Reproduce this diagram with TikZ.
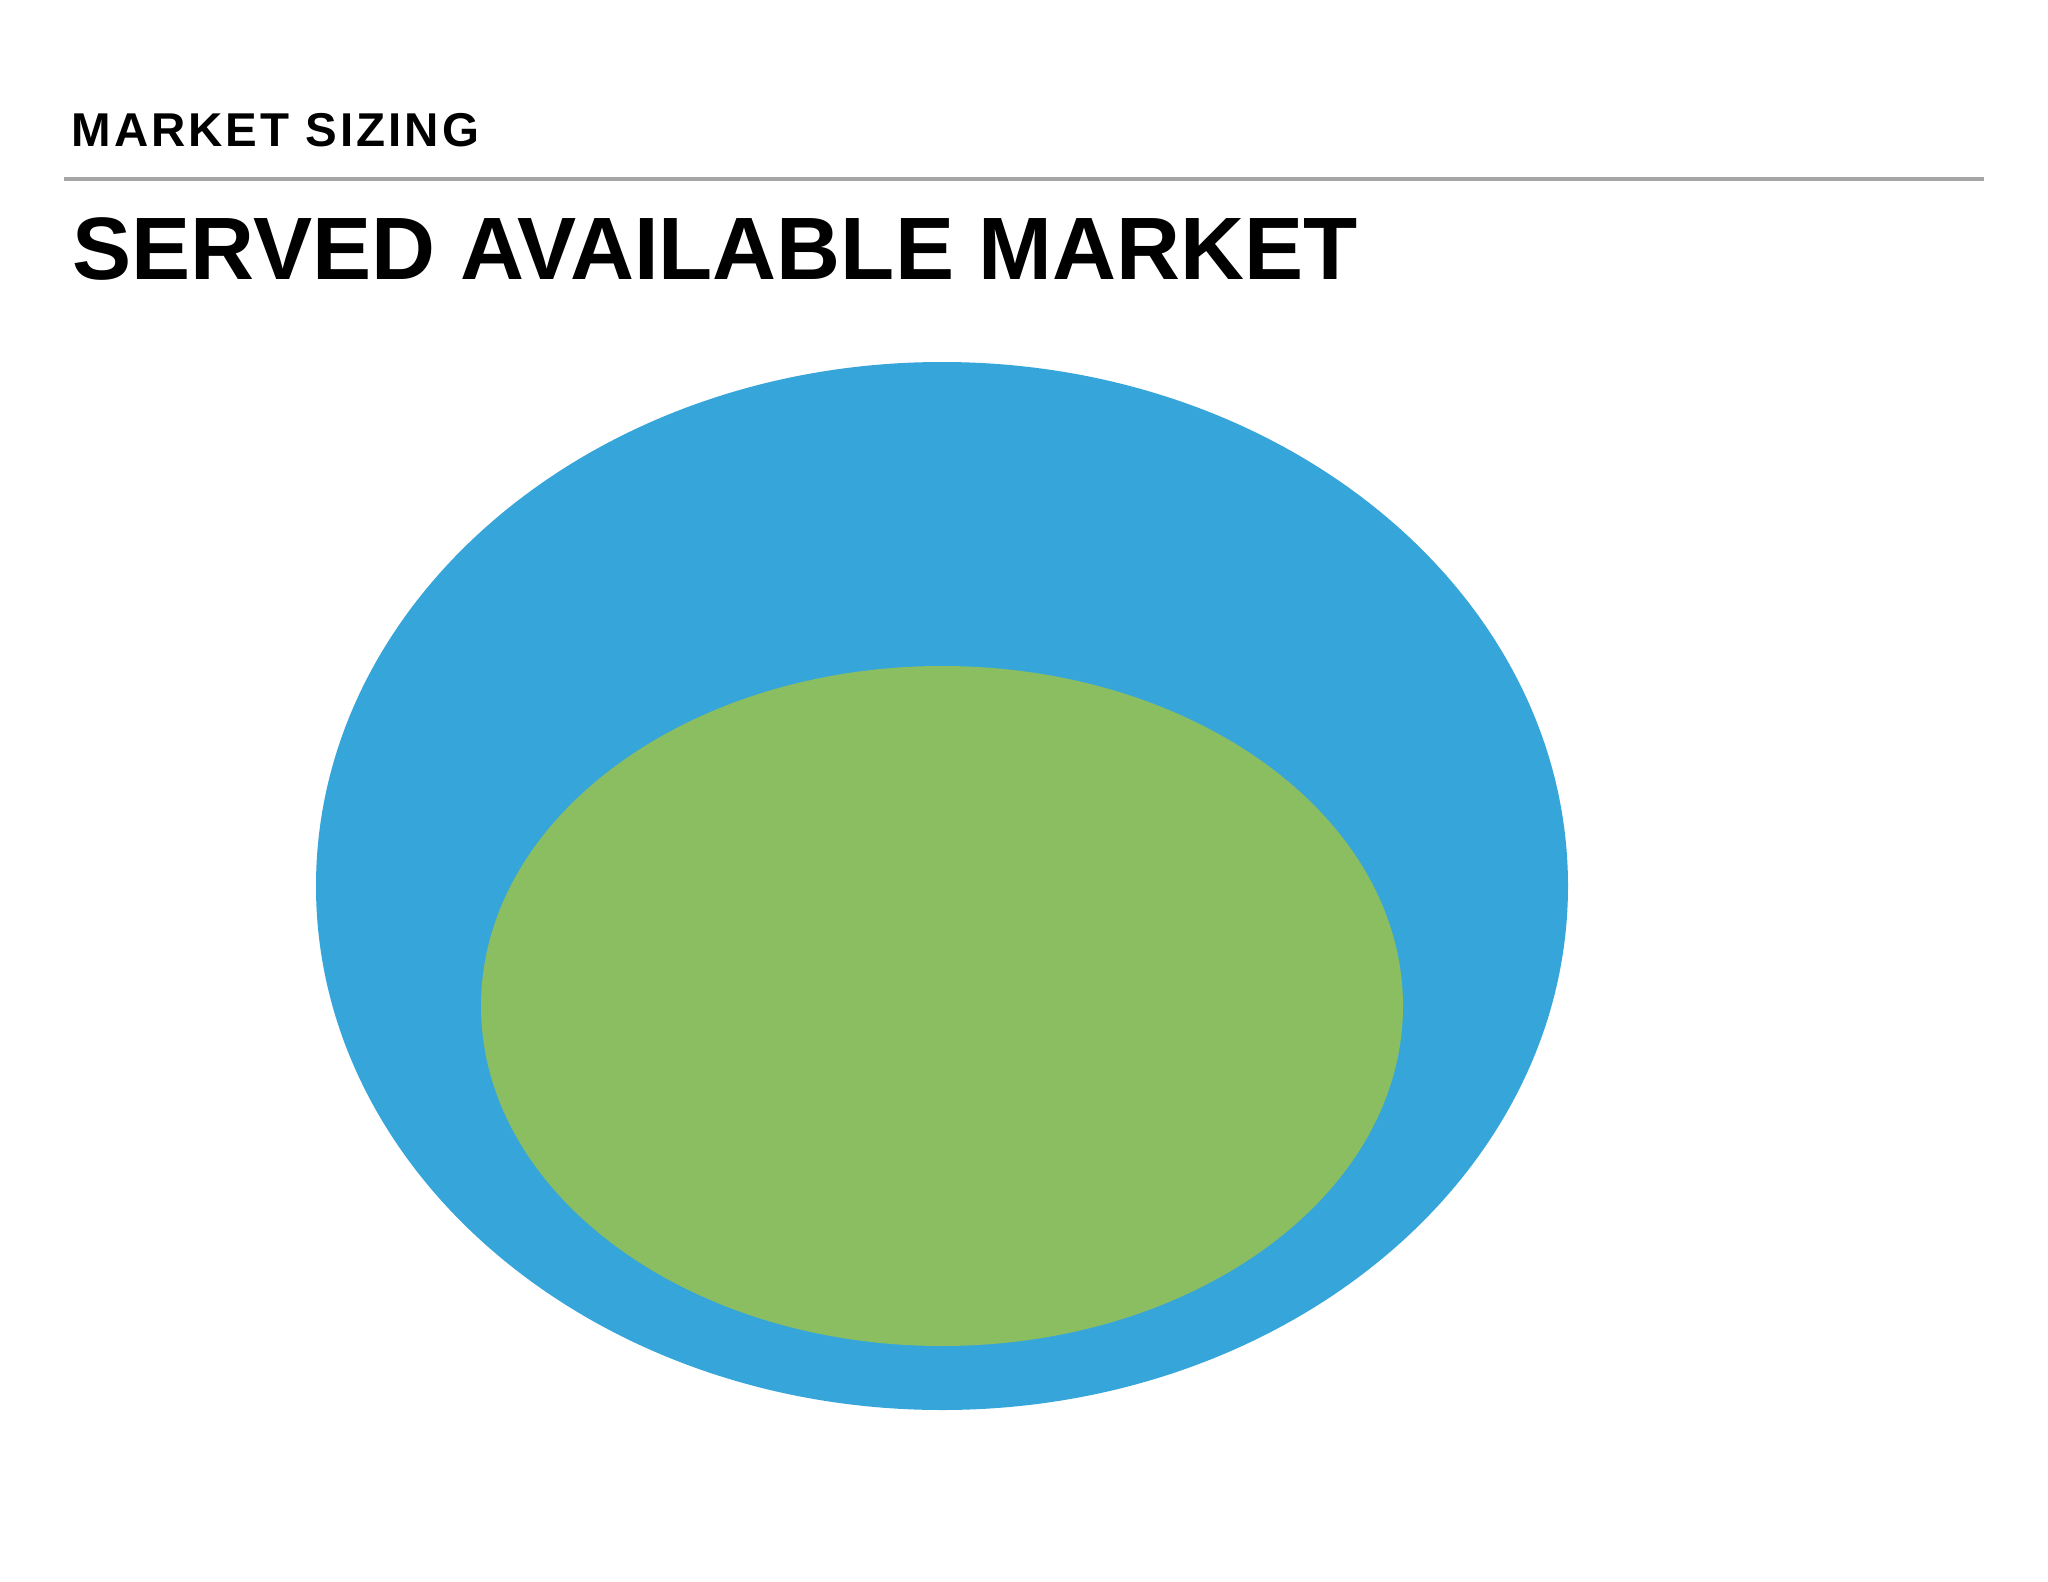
\documentclass[tikz,border=0pt]{standalone}
\usepackage{fontspec}
\setmainfont{Liberation Sans}
\newfontfamily\kickerfont[LetterSpace=6.3]{Liberation Sans}
\usetikzlibrary{positioning}
\definecolor{tam-blue}{HTML}{36A5DA}
\definecolor{sam-green}{HTML}{8BBD61}
\definecolor{rule-gray}{HTML}{A6A6A6}
\tikzset{
    kicker/.style={anchor=base west, inner sep=0pt, font=\kickerfont\bfseries\fontsize{13.5pt}{15pt}\selectfont},
    headline/.style={anchor=base west, inner sep=0pt, font=\bfseries\fontsize{25.2pt}{28pt}\selectfont},
}

\begin{document}
\begin{tikzpicture}[x=0.01cm, y=-0.01cm]
    \useasboundingbox[fill=white] (0,0) rectangle (2048,1582);

    \node[kicker] (kick) at (71,147) {MARKET SIZING};
    \coordinate (ruleL) at (64,179) ;
    \coordinate (ruleR) at (1984,179) ;
    \draw[rule-gray, line width=1.2pt] (ruleL) -- (ruleR);
    \node[headline] (title) at (72,280) {SERVED AVAILABLE MARKET};

    % outer and inner market
    \fill[tam-blue] (942,886) ellipse [x radius=626, y radius=524];
    \fill[sam-green] (942,1006) ellipse [x radius=461, y radius=340];

\end{tikzpicture}
\end{document}
